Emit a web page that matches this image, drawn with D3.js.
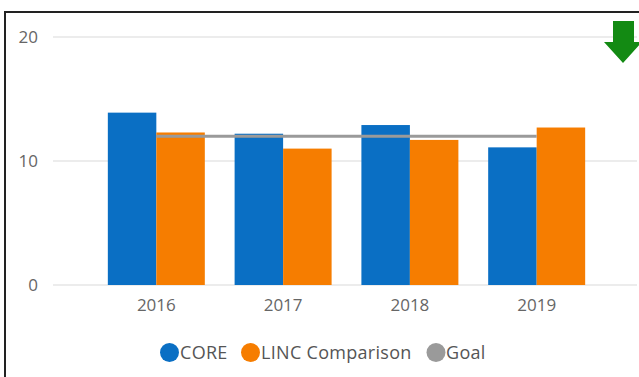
<!DOCTYPE html>
<html>
<head>
<meta charset="utf-8">
<script src="https://cdn.jsdelivr.net/npm/d3@7"></script>
<style>
  html, body { margin: 0; padding: 0; background: #fff; overflow: hidden; }
  svg { display: block; }
  text { font-family: "Open Sans", "Noto Sans", sans-serif; }
</style>
</head>
<body>
<svg id="chart" width="639" height="377"></svg>
<script>
// Yearly values for each series
const years = ["2016", "2017", "2018", "2019"];
const coreValues = [13.9, 12.2, 12.9, 11.1];
const lincValues = [12.3, 11.0, 11.7, 12.7];
const goalValues = [12, 12, 12, 12];
const yTicks = [0, 10, 20];
const seriesNames = ["CORE", "LINC Comparison", "Goal"];
const seriesColors = ["#0a6fc4", "#f67d00", "#9a9a9a"];

const svg = d3.select("#chart");

// Panel frame (only top and left edges fall inside the view)
svg.append("path")
  .attr("d", "M5,380 L5,12 L639,12")
  .attr("fill", "none")
  .attr("stroke", "#222")
  .attr("stroke-width", 2);

const y = d3.scaleLinear().domain([0, 20]).range([285, 37]);
const x = d3.scaleBand().domain(years).range([93, 600]).paddingInner(0.235).paddingOuter(0.117);
const xs = d3.scaleBand().domain([0, 1]).range([0, x.bandwidth()]);

// Horizontal gridlines
svg.append("g")
  .selectAll("line")
  .data(yTicks)
  .join("line")
  .attr("x1", 53).attr("x2", 637)
  .attr("y1", d => y(d)).attr("y2", d => y(d))
  .attr("stroke", "#ececec")
  .attr("stroke-width", 2);

// Y axis labels
const yAxis = d3.axisLeft(y).tickValues(yTicks).tickSize(0).tickPadding(0);
const gy = svg.append("g").attr("transform", "translate(38,0)").call(yAxis);
gy.select(".domain").remove();
gy.selectAll("text")
  .attr("fill", "#666")
  .style("font-size", "17px")
  .style("font-family", "'Open Sans', sans-serif");

// X axis labels
const xAxis = d3.axisBottom(x).tickSize(0).tickPadding(0);
const gx = svg.append("g").attr("transform", "translate(0,298.5)").call(xAxis);
gx.select(".domain").remove();
gx.selectAll("text")
  .attr("fill", "#666")
  .style("font-size", "17px")
  .style("font-family", "'Open Sans', sans-serif");

// Bars
const barData = [];
years.forEach((yr, i) => {
  barData.push({ year: yr, k: 0, v: coreValues[i] });
  barData.push({ year: yr, k: 1, v: lincValues[i] });
});
svg.append("g")
  .selectAll("rect")
  .data(barData)
  .join("rect")
  .attr("x", d => x(d.year) + xs(d.k))
  .attr("width", xs.bandwidth())
  .attr("y", d => y(d.v))
  .attr("height", d => y(0) - y(d.v))
  .attr("fill", d => seriesColors[d.k]);

// Goal line
const line = d3.line()
  .x((d, i) => x(years[i]) + x.bandwidth() / 2)
  .y(d => y(d));
svg.append("path")
  .datum(goalValues)
  .attr("d", line)
  .attr("fill", "none")
  .attr("stroke", seriesColors[2])
  .attr("stroke-width", 3);

// Trend arrow (downward)
svg.append("path")
  .attr("d", "M613,21 L634,21 L634,42 L642,42 L623,63 L604,42 L613,42 Z")
  .attr("fill", "#138a13");

// Legend
const legendItems = [
  { cx: 169.5, tx: 180 },
  { cx: 250.5, tx: 261 },
  { cx: 436, tx: 446 }
];
const lg = svg.append("g");
legendItems.forEach((it, i) => {
  lg.append("circle")
    .attr("cx", it.cx).attr("cy", 352.5).attr("r", 9.5)
    .attr("fill", seriesColors[i]);
  lg.append("text")
    .attr("x", it.tx).attr("y", 352.5)
    .attr("dy", "0.35em")
    .attr("fill", "#555")
    .style("font-size", "18px")
    .style("letter-spacing", "0.3px")
    .text(seriesNames[i]);
});
</script>
</body>
</html>
